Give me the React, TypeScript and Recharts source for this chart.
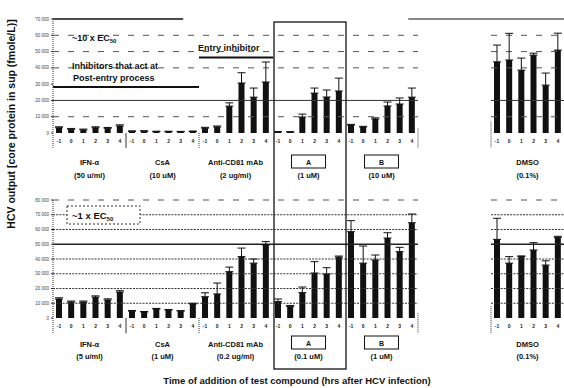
import React from "react";
import { BarChart, Bar, XAxis, YAxis, ErrorBar, ReferenceLine } from "recharts";

const hours = ["-1", "0", "1", "2", "3", "4"];
const groupNames = ["IFN-α", "CsA", "Anti-CD81 mAb", "A", "B", "DMSO"];
const groupStart = [0, 6, 12, 18, 24, 36];
const dosesTop = ["(50 u/ml)", "(10 uM)", "(2 ug/ml)", "(1 uM)", "(10 uM)", "(0.1%)"];
const dosesBottom = ["(5 u/ml)", "(1 uM)", "(0.2 ug/ml)", "(0.1 uM)", "(1 uM)", "(0.1%)"];

// ~10 x EC50
const topMean = [
  3200, 2300, 1900, 3200, 2900, 4300,
  1000, 1100, 800, 800, 700, 900,
  3000, 3700, 16500, 30700, 22000, 31300,
  700, 600, 9800, 24500, 22100, 25800,
  4900, 3700, 8600, 16600, 17800, 22000,
  43700, 44800, 38600, 47800, 29400, 50900,
];
const topErr = [
  600, 500, 500, 600, 500, 700,
  300, 300, 300, 300, 300, 300,
  500, 600, 2000, 6300, 5600, 12300,
  200, 200, 1800, 3100, 4300, 7900,
  400, 400, 700, 2400, 3700, 5600,
  10300, 16400, 7400, 1200, 7400, 10400,
];

// ~1 x EC50
const bottomMean = [
  12900, 10800, 10800, 14200, 12200, 17600,
  4700, 4100, 6100, 5400, 4700, 9500,
  14400, 16300, 31400, 41600, 37200, 49500,
  11100, 7700, 17200, 30500, 29800, 41300,
  58500, 37200, 39300, 54200, 45000, 64600,
  53300, 37200, 41600, 46100, 35900, 54700,
];
const bottomErr = [
  800, 700, 700, 800, 800, 900,
  400, 300, 400, 400, 300, 500,
  2700, 7400, 3100, 5800, 2800, 2300,
  1800, 800, 3800, 7700, 4300, 700,
  7500, 11600, 3400, 3600, 2900, 5900,
  14300, 4400, 500, 5000, 2900, 700,
];

const topTicks = [0, 10000, 20000, 30000, 40000, 50000, 60000, 70000];
const bottomTicks = [0, 10000, 20000, 30000, 40000, 50000, 60000, 70000, 80000];

const X_DOMAIN = [-0.5, 41.5];
const FONT = "'Liberation Sans', Arial, sans-serif";

const build = (mean: number[], err: number[]) =>
  groupNames.flatMap((_, gi) =>
    hours.map((h, hi) => ({
      slot: groupStart[gi] + hi,
      hour: h,
      v: mean[gi * 6 + hi],
      e: [0, err[gi * 6 + hi]],
    }))
  );

const topData = build(topMean, topErr);
const bottomData = build(bottomMean, bottomErr);
const slots = topData.map((d) => d.slot);
const centers = groupStart.map((s) => s + 2.5);

const fmt = (v: number) => String(v).replace(/\B(?=(\d{3})+(?!\d))/g, " ");

function makeGroupTick(doses: string[], o: { name: number; box: number; dose: number }) {
  return (p: any) => {
    const i = centers.indexOf(p.payload.value);
    if (i < 0) return null;
    const name = groupNames[i];
    const boxed = name === "A" || name === "B";
    return (
      <g fontFamily={FONT} fontWeight="bold" fill="#111" textAnchor="middle">
        {boxed ? (
          <>
            <rect x={p.x - 17} y={p.y + o.box} width={34} height={13} fill="#fff" stroke="#111" strokeWidth={1} />
            <text x={p.x} y={p.y + o.box + 9.5} fontSize={7}>{name}</text>
          </>
        ) : (
          <text x={p.x} y={p.y + o.name} fontSize={7.5}>{name}</text>
        )}
        <text x={p.x} y={p.y + o.dose} fontSize={7.5}>{doses[i]}</text>
      </g>
    );
  };
}

const spans = [[-0.5, 29.5], [35.5, 41.5]];

function gridLines(values: number[], style: any, prefix: string) {
  return values.flatMap((v) =>
    spans.map(([a, b], k) => (
      <ReferenceLine
        key={`${prefix}${v}-${k}`}
        xAxisId="a"
        segment={[{ x: a, y: v }, { x: b, y: v }]}
        {...style}
      />
    ))
  );
}

function shortVert(x: number, y1: number, y2: number, key: string, dashed = true) {
  return (
    <ReferenceLine
      key={key}
      xAxisId="a"
      segment={[{ x, y: y1 }, { x, y: y2 }]}
      stroke="#333"
      strokeWidth={1}
      strokeDasharray={dashed ? "1 1" : undefined}
      ifOverflow="visible"
    />
  );
}

function Panel(props: {
  data: any[];
  yMax: number;
  yTicks: number[];
  top: number;
  height: number;
  marginTop: number;
  groupAxisHeight: number;
  tick: any;
  children?: React.ReactNode;
}) {
  const { data, yMax, yTicks, top, height, marginTop, groupAxisHeight, tick, children } = props;
  const below = -yMax * 0.13;
  return (
    <div style={{ position: "absolute", left: 0, top }}>
      <BarChart width={564} height={height} data={data} margin={{ top: marginTop, right: 0, bottom: 0, left: 0 }}>
        <XAxis
          xAxisId="b"
          type="number"
          dataKey="slot"
          domain={X_DOMAIN}
          ticks={centers}
          interval={0}
          height={groupAxisHeight}
          tickLine={false}
          tickSize={0}
          tickMargin={0}
          axisLine={false}
          tick={tick}
          allowDataOverflow
        />
        <XAxis
          xAxisId="a"
          type="number"
          dataKey="slot"
          domain={X_DOMAIN}
          ticks={slots}
          interval={0}
          tickFormatter={(s: number) => hours[s % 6]}
          height={14}
          tick={{ fontSize: 5, fill: "#222", fontFamily: FONT, fontWeight: "bold" }}
          tickLine={false}
          tickSize={0}
          tickMargin={6}
          axisLine={false}
          allowDataOverflow
        />
        <YAxis
          type="number"
          domain={[0, yMax]}
          ticks={yTicks}
          interval={0}
          width={53}
          tickFormatter={fmt}
          tick={{ fontSize: 4.5, fill: "#444", fontFamily: FONT }}
          tickSize={2}
          tickMargin={2}
          tickLine={{ stroke: "#333" }}
          axisLine={{ stroke: "#333", strokeDasharray: "1 1" }}
        />
        {children}
        {shortVert(-0.5, 0, below, "ax")}
        {shortVert(5.5, 0, below, "s1", false)}
        {shortVert(11.5, 0, below, "s2")}
        {shortVert(29.5, yMax * 0.04, below, "s3")}
        {shortVert(35.5, yMax * 0.1, below, "s4")}
        <Bar xAxisId="a" dataKey="v" fill="#111" barSize={6} isAnimationActive={false}>
          <ErrorBar dataKey="e" width={4} strokeWidth={1} stroke="#111" direction="y" isAnimationActive={false} />
        </Bar>
      </BarChart>
    </div>
  );
}

const topTick = makeGroupTick(dosesTop, { name: 18, box: 8, dose: 31 });
const bottomTick = makeGroupTick(dosesBottom, { name: 15, box: 4, dose: 27 });

export default function App() {
  const dashed = { stroke: "#555", strokeWidth: 1, strokeDasharray: "6 9" };
  const dotted = { stroke: "#333", strokeWidth: 1.1, strokeDasharray: "2 1.2" };
  return (
    <div style={{ position: "absolute", left: 0, top: 0, width: 564, height: 388, background: "#fff", overflow: "hidden", fontFamily: FONT }}>
      <Panel data={topData} yMax={70000} yTicks={topTicks} top={0} height={190} marginTop={19} groupAxisHeight={43} tick={topTick}>
        {gridLines([10000, 40000, 50000, 60000], dashed, "d")}
        {gridLines([20000], { stroke: "#333", strokeWidth: 1 }, "s")}
        <ReferenceLine xAxisId="a" segment={[{ x: -0.5, y: 70000 }, { x: 10.2, y: 70000 }]} stroke="#111" strokeWidth={1.4} />
        <ReferenceLine xAxisId="a" segment={[{ x: 28.7, y: 70000 }, { x: 41.5, y: 70000 }]} stroke="#111" strokeWidth={1.2} />
        <ReferenceLine xAxisId="a" segment={[{ x: -0.5, y: 28200 }, { x: 11.5, y: 28200 }]} stroke="#111" strokeWidth={2} />
        <ReferenceLine xAxisId="a" segment={[{ x: 11.5, y: 46300 }, { x: 17.6, y: 46300 }]} stroke="#111" strokeWidth={2} />
      </Panel>
      <Panel data={bottomData} yMax={80000} yTicks={bottomTicks} top={190} height={188} marginTop={10} groupAxisHeight={46} tick={bottomTick}>
        {gridLines([10000, 20000, 30000, 40000, 60000, 70000], dotted, "g")}
        {gridLines([50000], { stroke: "#222", strokeWidth: 1.3 }, "h")}
        {gridLines([80000], dashed, "t")}
      </Panel>
      <svg width={564} height={388} style={{ position: "absolute", left: 0, top: 0, pointerEvents: "none" }} fontFamily={FONT}>
        <rect x={274} y={22} width={72} height={347} fill="none" stroke="#111" strokeWidth={1.3} />
        <text transform="translate(15,124) rotate(-90)" textAnchor="middle" fontSize={10.5} fontWeight="bold" fill="#111">
          HCV output [core protein in sup (fmole/L)]
        </text>
        <text x={297} y={384} textAnchor="middle" fontSize={9.5} fontWeight="bold" fill="#111">
          Time of addition of test compound (hrs after HCV infection)
        </text>
        <g fontWeight="bold" fill="#111" fontSize={9}>
          <text x={72} y={41}>
            ~10 x EC<tspan fontSize={6} dy={2}>50</tspan>
          </text>
          <text x={198} y={51}>Entry inhibitor</text>
          <text x={72} y={69}>Inhibitors that act at</text>
          <text x={73} y={81}>Post-entry process</text>
        </g>
        <rect x={67} y={206} width={73} height={18} fill="#fff" stroke="#333" strokeWidth={1} strokeDasharray="2 2" />
        <text x={72} y={219} fontSize={9.5} fontWeight="bold" fill="#111">
          ~1 x EC<tspan fontSize={6} dy={2}>50</tspan>
        </text>
      </svg>
    </div>
  );
}
